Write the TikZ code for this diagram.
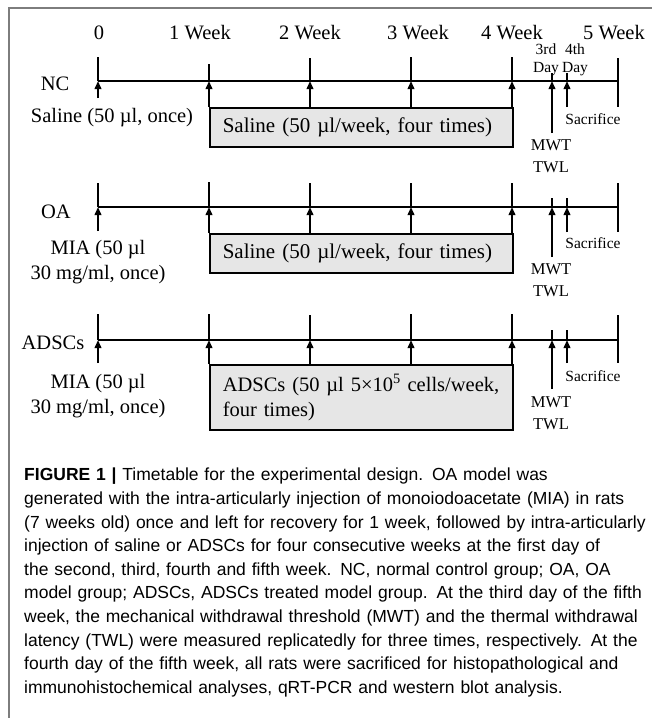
\documentclass[tikz,border=0pt]{standalone}
\usepackage{fontspec}
\setmainfont{Liberation Serif}
\newfontfamily\capfont{Liberation Sans}
\usetikzlibrary{arrows.meta}
\definecolor{ratBoxGray}{RGB}{230,230,230}
\definecolor{ratFrame}{RGB}{125,125,125}
\newcommand{\jline}[1]{\makebox[616pt][s]{#1}}

\begin{document}
\begin{tikzpicture}[x=1pt, y=1pt,
    lbl/.style={font=\fontsize{20.5}{25}\selectfont, align=center, inner sep=0pt},
    daylbl/.style={font=\fontsize{15.5}{18}\selectfont, align=center, inner sep=0pt},
    note/.style={font=\fontsize{16.5}{21.5}\selectfont, align=center, inner sep=0pt},
    tl/.style={line width=2.3pt},
    tk/.style={line width=2.2pt},
    arr/.style={-{Triangle[length=8pt, width=6.5pt]}, line width=2.2pt},
    inj/.style={rectangle, draw, line width=1.6pt, fill=ratBoxGray, anchor=north west,
                minimum width=303pt, text width=277pt, inner xsep=13pt, inner ysep=0pt,
                align=left, font=\fontsize{21}{25}\selectfont}
  ]
  \useasboundingbox (0,0) rectangle (652,-718);
  \draw[ratFrame, line width=1.2pt] (9,-718) -- (9,-8) -- (652,-8);

  \node[lbl] (w0) at (99,-33)  {0};
  \node[lbl] (w1) at (200,-33) {1 Week};
  \node[lbl] (w2) at (310,-33) {2 Week};
  \node[lbl] (w3) at (418,-33) {3 Week};
  \node[lbl] (w4) at (512,-33) {4 Week};
  \node[lbl] (w5) at (614,-33) {5 Week};
  \node[daylbl] (d3) at (546,-60) {3rd\\Day};
  \node[daylbl] (d4) at (575,-60) {4th\\Day};

  \coordinate (nc0) at (98,-81);   \coordinate (nc1) at (209,-81);
  \coordinate (nc2) at (310,-81);  \coordinate (nc3) at (411,-81);
  \coordinate (nc4) at (512,-81);  \coordinate (ncd3) at (552,-81);
  \coordinate (ncd4) at (567,-81); \coordinate (nc5) at (618,-81);
  \coordinate (nc0b) at (98,-98);  \coordinate (ncd3b) at (552,-133);
  \coordinate (ncd4b) at (567,-107);
  \node[lbl] (ncname) at (55,-84) {NC};
  \node[lbl] (ncfirst) at (112,-118) {Saline (50 µl, once)};
  \node[inj, minimum height=39pt] (ncbox) at (209,-107) {Saline (50 µl/week, four times)};
  \node[daylbl] (ncsac) at (593,-119) {Sacrifice};
  \node[note] (nctest) at (551,-156) {MWT\\TWL};
  \draw[tl] (nc0) -- (nc5);
  \draw[tk] (nc0) -- ++(0,24) (nc1) -- ++(0,17) (nc2) -- ++(0,23) (nc3) -- ++(0,24)
    (nc4) -- ++(0,24) (ncd3) -- ++(0,8) (ncd4) -- ++(0,8) (nc5) ++(0,23) -- ++(0,-49);
  \draw[arr] (nc0b) -- (nc0);
  \draw[arr] (ncbox.north -| nc1) -- (nc1);
  \draw[arr] (ncbox.north -| nc2) -- (nc2);
  \draw[arr] (ncbox.north -| nc3) -- (nc3);
  \draw[arr] (ncbox.north -| nc4) -- (nc4);
  \draw[arr] (ncd3b) -- (ncd3);
  \draw[arr] (ncd4b) -- (ncd4);

  \coordinate (oa0) at (98,-207);   \coordinate (oa1) at (209,-207);
  \coordinate (oa2) at (310,-207);  \coordinate (oa3) at (411,-207);
  \coordinate (oa4) at (512,-207);  \coordinate (oad3) at (552,-207);
  \coordinate (oad4) at (567,-207); \coordinate (oa5) at (618,-207);
  \coordinate (oa0b) at (98,-231);  \coordinate (oad3b) at (552,-257);
  \coordinate (oad4b) at (567,-232);
  \node[lbl] (oaname) at (56,-212) {OA};
  \node[lbl] (oafirst) at (98,-262) {MIA (50 µl\\30 mg/ml, once)};
  \node[inj, minimum height=39pt] (oabox) at (209,-233) {Saline (50 µl/week, four times)};
  \node[daylbl] (oasac) at (593,-243) {Sacrifice};
  \node[note] (oatest) at (551,-280) {MWT\\TWL};
  \draw[tl] (oa0) -- (oa5);
  \draw[tk] (oa0) -- ++(0,24) (oa1) -- ++(0,25) (oa2) -- ++(0,24) (oa3) -- ++(0,24)
    (oa4) -- ++(0,24) (oad3) -- ++(0,9) (oad4) -- ++(0,9) (oa5) ++(0,24) -- ++(0,-49);
  \draw[arr] (oa0b) -- (oa0);
  \draw[arr] (oabox.north -| oa1) -- (oa1);
  \draw[arr] (oabox.north -| oa2) -- (oa2);
  \draw[arr] (oabox.north -| oa3) -- (oa3);
  \draw[arr] (oabox.north -| oa4) -- (oa4);
  \draw[arr] (oad3b) -- (oad3);
  \draw[arr] (oad4b) -- (oad4);

  \coordinate (ad0) at (98,-340);   \coordinate (ad1) at (209,-340);
  \coordinate (ad2) at (310,-340);  \coordinate (ad3) at (411,-340);
  \coordinate (ad4) at (512,-340);  \coordinate (add3) at (552,-340);
  \coordinate (add4) at (567,-340); \coordinate (ad5) at (618,-340);
  \coordinate (ad0b) at (98,-363);  \coordinate (add3b) at (552,-389);
  \coordinate (add4b) at (567,-363);
  \node[lbl] (adname) at (53,-343) {ADSCs};
  \node[lbl] (adfirst) at (98,-396) {MIA (50 µl\\30 mg/ml, once)};
  \node[inj, minimum height=65pt, font=\fontsize{20.5}{25}\selectfont] (adbox) at (209,-364)
    {\mbox{ADSCs (50 µl 5×10\textsuperscript{5} cells/week,}\\four times)};
  \node[daylbl] (adsac) at (593,-376) {Sacrifice};
  \node[note] (adtest) at (551,-413) {MWT\\TWL};
  \draw[tl] (ad0) -- (ad5);
  \draw[tk] (ad0) -- ++(0,26) (ad1) -- ++(0,26) (ad2) -- ++(0,25) (ad3) -- ++(0,26)
    (ad4) -- ++(0,26) (add3) -- ++(0,10) (add4) -- ++(0,10) (ad5) ++(0,25) -- ++(0,-48);
  \draw[arr] (ad0b) -- (ad0);
  \draw[arr] (adbox.north -| ad1) -- (ad1);
  \draw[arr] (adbox.north -| ad2) -- (ad2);
  \draw[arr] (adbox.north -| ad3) -- (ad3);
  \draw[arr] (adbox.north -| ad4) -- (ad4);
  \draw[arr] (add3b) -- (add3);
  \draw[arr] (add4b) -- (add4);

  \node[anchor=north west, inner sep=0pt, text width=616pt, align=left,
        font=\capfont\fontsize{17.5}{23.6}\selectfont] (caption) at (24,-468)
    {\textbf{FIGURE 1 |} Timetable for the experimental design. OA model was\\
     \jline{generated with the intra-articularly injection of monoiodoacetate (MIA) in rats}\\
     \jline{(7 weeks old) once and left for recovery for 1 week, followed by intra-articularly}\\
     injection of saline or ADSCs for four consecutive weeks at the first day of\\
     \jline{the second, third, fourth and fifth week. NC, normal control group; OA, OA}\\
     \jline{model group; ADSCs, ADSCs treated model group. At the third day of the fifth}\\
     \jline{week, the mechanical withdrawal threshold (MWT) and the thermal withdrawal}\\
     \jline{latency (TWL) were measured replicatedly for three times, respectively. At the}\\
     \jline{fourth day of the fifth week, all rats were sacrificed for histopathological and}\\
     immunohistochemical analyses, qRT-PCR and western blot analysis.};
\end{tikzpicture}
\end{document}
